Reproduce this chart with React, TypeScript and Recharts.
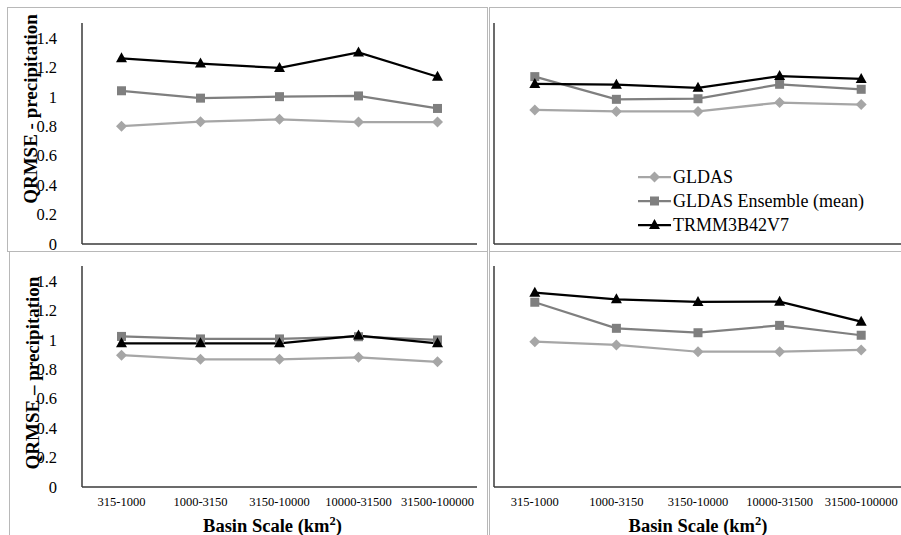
import React from "react";
import { LineChart, Line, XAxis, YAxis, Legend } from "recharts";

const serif = '"Liberation Serif"';

const scales = ["315-1000", "1000-3150", "3150-10000", "10000-31500", "31500-100000"];
const yTicks = [0, 0.2, 0.4, 0.6, 0.8, 1, 1.2, 1.4];
const seriesNames = ["GLDAS", "GLDAS Ensemble (mean)", "TRMM3B42V7"];

// top-left panel
const gldasTL = [0.8, 0.83, 0.846, 0.828, 0.828];
const ensembleTL = [1.04, 0.99, 1.0, 1.005, 0.92];
const trmmTL = [1.26, 1.225, 1.195, 1.3, 1.135];

// top-right panel
const gldasTR = [0.91, 0.9, 0.9, 0.96, 0.946];
const ensembleTR = [1.136, 0.982, 0.986, 1.084, 1.05];
const trmmTR = [1.086, 1.081, 1.06, 1.14, 1.12];

// bottom-left panel
const gldasBL = [0.895, 0.867, 0.867, 0.88, 0.85];
const ensembleBL = [1.022, 1.005, 1.005, 1.02, 0.998];
const trmmBL = [0.975, 0.975, 0.975, 1.028, 0.975];

// bottom-right panel
const gldasBR = [0.986, 0.964, 0.918, 0.918, 0.93];
const ensembleBR = [1.254, 1.077, 1.047, 1.097, 1.03];
const trmmBR = [1.319, 1.274, 1.256, 1.258, 1.122];

const colors = { gldas: "#a6a6a6", ens: "#7f7f7f", trmm: "#000000" };
const boxStroke = "#3a3a3a";
const panelBorder = "1px solid #b8b8b8";

function rows(g: number[], e: number[], t: number[]) {
  return scales.map((s, i) => ({ scale: s, gldas: g[i], ens: e[i], trmm: t[i] }));
}

function markerShape(kind: string, cx: number, cy: number, color: string) {
  if (kind === "diamond") {
    const r = 5.5;
    return <polygon points={`${cx},${cy - r} ${cx + r},${cy} ${cx},${cy + r} ${cx - r},${cy}`} fill={color} />;
  }
  if (kind === "square") {
    return <rect x={cx - 4.5} y={cy - 4.5} width={9} height={9} fill={color} />;
  }
  return <polygon points={`${cx},${cy - 6} ${cx + 5.5},${cy + 4} ${cx - 5.5},${cy + 4}`} fill={color} />;
}

const makeDot = (kind: string, color: string) => (props: any) => {
  const { cx, cy, index } = props;
  if (cx == null || cy == null) return <g key={`e-${index}`} />;
  return <g key={`${kind}-${index}`}>{markerShape(kind, cx, cy, color)}</g>;
};

const legendItems = [
  { name: seriesNames[0], kind: "diamond", color: colors.gldas },
  { name: seriesNames[1], kind: "square", color: colors.ens },
  { name: seriesNames[2], kind: "triangle", color: colors.trmm },
];

const renderLegend = () => (
  <div style={{ fontFamily: serif, fontSize: 18, color: "#000", lineHeight: "24px" }}>
    {legendItems.map((it) => (
      <div key={it.name} style={{ display: "flex", alignItems: "center", height: 24, whiteSpace: "nowrap" }}>
        <svg width={33} height={14} style={{ display: "block" }}>
          <line x1={0} y1={7} x2={33} y2={7} stroke={it.color} strokeWidth={2.25} />
          {markerShape(it.kind, 16.5, 7, it.color)}
        </svg>
        <span style={{ marginLeft: 2 }}>{it.name}</span>
      </div>
    ))}
  </div>
);

type PanelProps = {
  box: { left: number; top: number; width: number; height: number };
  data: any[];
  chartW: number;
  chartH: number;
  marginTop: number;
  marginRight: number;
  yWidth: number;
  yLabel?: string;
  yLabelShift?: number;
  xTicks?: boolean;
  xTitle?: boolean;
  xTitleShift?: number;
  legend?: boolean;
};

function Panel(p: PanelProps) {
  const plotW = p.chartW - p.yWidth - p.marginRight;
  const edgePad = plotW / scales.length / 2;

  const yLabelRender = (props: any) => {
    const vb = props.viewBox || { x: 0, y: p.marginTop, width: p.yWidth, height: 221 };
    const cx = vb.x + 22;
    const cy = vb.y + vb.height / 2 + (p.yLabelShift || 0);
    return (
      <text
        x={cx}
        y={cy}
        transform={`rotate(-90, ${cx}, ${cy})`}
        textAnchor="middle"
        dominantBaseline="central"
        fontFamily={serif}
        fontSize={19}
        fontWeight={700}
        fill="#000"
      >
        {p.yLabel}
      </text>
    );
  };

  const xTitleRender = (props: any) => {
    const vb = props.viewBox || { x: p.yWidth, y: p.marginTop + 221, width: plotW, height: 48 };
    const cx = vb.x + vb.width / 2 + (p.xTitleShift || 0);
    const by = vb.y + 44.5;
    return (
      <text x={cx} y={by} textAnchor="middle" fontFamily={serif} fontSize={18.5} fontWeight={700} fill="#000">
        <tspan>Basin Scale (km</tspan>
        <tspan dy={-7} fontSize={12.5}>2</tspan>
        <tspan dy={7}>)</tspan>
      </text>
    );
  };

  return (
    <div
      style={{
        position: "absolute",
        left: p.box.left,
        top: p.box.top,
        width: p.box.width,
        height: p.box.height,
        boxSizing: "border-box",
        border: panelBorder,
        background: "#fff",
        overflow: "hidden",
      }}
    >
      <LineChart
        width={p.chartW}
        height={p.chartH}
        data={p.data}
        margin={{ top: p.marginTop, right: p.marginRight, bottom: 0, left: 0 }}
      >
        <XAxis
          dataKey="scale"
          height={48}
          padding={{ left: edgePad, right: edgePad }}
          tickLine={false}
          tickSize={0}
          tickMargin={10}
          axisLine={{ stroke: boxStroke, strokeWidth: 1.5 }}
          tick={p.xTicks ? { fontFamily: serif, fontSize: 12.5, fill: "#000" } : false}
          interval={0}
          label={p.xTitle ? xTitleRender : undefined}
        />
        <XAxis
          xAxisId="top"
          orientation="top"
          dataKey="scale"
          height={0}
          tick={false}
          tickLine={false}
          axisLine={{ stroke: boxStroke, strokeWidth: 1.5 }}
        />
        <YAxis
          width={p.yWidth}
          domain={[0, 1.5]}
          ticks={yTicks}
          tickLine={false}
          tickSize={0}
          tickMargin={25}
          tick={p.yLabel ? { fontFamily: serif, fontSize: 16.5, fill: "#000" } : false}
          axisLine={{ stroke: boxStroke, strokeWidth: 1.5 }}
          label={p.yLabel ? yLabelRender : undefined}
        />
        <YAxis
          yAxisId="right"
          orientation="right"
          width={0}
          domain={[0, 1.5]}
          tick={false}
          tickLine={false}
          axisLine={{ stroke: boxStroke, strokeWidth: 1.5 }}
        />
        {p.legend && (
          <Legend
            layout="vertical"
            align="center"
            verticalAlign="middle"
            content={renderLegend}
            wrapperStyle={{ left: 148, top: 157, width: "auto" }}
          />
        )}
        <Line
          dataKey="gldas"
          name={seriesNames[0]}
          stroke={colors.gldas}
          strokeWidth={2.25}
          dot={makeDot("diamond", colors.gldas)}
          isAnimationActive={false}
        />
        <Line
          dataKey="ens"
          name={seriesNames[1]}
          stroke={colors.ens}
          strokeWidth={2.25}
          dot={makeDot("square", colors.ens)}
          isAnimationActive={false}
        />
        <Line
          dataKey="trmm"
          name={seriesNames[2]}
          stroke={colors.trmm}
          strokeWidth={2.25}
          dot={makeDot("triangle", colors.trmm)}
          isAnimationActive={false}
        />
      </LineChart>
    </div>
  );
}

export default function App() {
  return (
    <div style={{ position: "fixed", left: 0, top: 0, width: 901, height: 535, background: "#fff", overflow: "hidden" }}>
      <Panel
        box={{ left: 7, top: 7, width: 481, height: 245 }}
        data={rows(gldasTL, ensembleTL, trmmTL)}
        chartW={480}
        chartH={284}
        marginTop={15}
        marginRight={11}
        yWidth={74}
        yLabel="QRMSE - precipitation"
        yLabelShift={-24.5}
      />
      <Panel
        box={{ left: 489, top: 7, width: 413, height: 245 }}
        data={rows(gldasTR, ensembleTR, trmmTR)}
        chartW={412}
        chartH={284}
        marginTop={15}
        marginRight={0}
        yWidth={4}
        legend
      />
      <Panel
        box={{ left: 9, top: 251, width: 479, height: 290 }}
        data={rows(gldasBL, ensembleBL, trmmBL)}
        chartW={478}
        chartH={283}
        marginTop={14}
        marginRight={11}
        yWidth={72}
        yLabel="QRMSE – precipitation"
        yLabelShift={-3.5}
        xTicks
        xTitle
        xTitleShift={-7}
      />
      <Panel
        box={{ left: 489, top: 251, width: 413, height: 290 }}
        data={rows(gldasBR, ensembleBR, trmmBR)}
        chartW={412}
        chartH={283}
        marginTop={14}
        marginRight={0}
        yWidth={4}
        xTicks
        xTitle
      />
    </div>
  );
}
